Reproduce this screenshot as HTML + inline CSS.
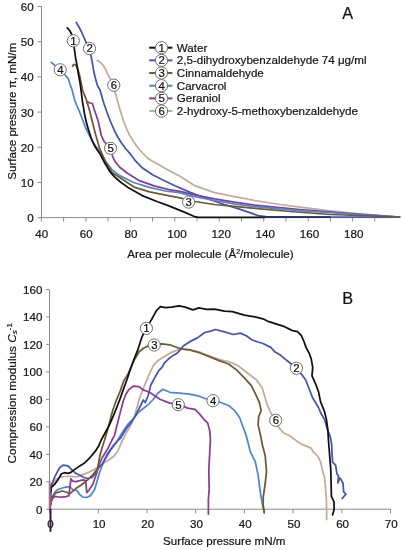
<!DOCTYPE html>
<html><head><meta charset="utf-8"><style>
html,body{margin:0;padding:0;background:#fff;}
svg{display:block;will-change:transform;}
text{font-family:"Liberation Sans", sans-serif;stroke:currentColor;stroke-width:0.22px;paint-order:stroke;}
</style></head><body>
<svg width="405" height="550" viewBox="0 0 405 550">
<rect width="405" height="550" fill="#fff"/>
<line x1="41.5" y1="6.5" x2="41.5" y2="218.1" stroke="#8c8c8c" stroke-width="1"/>
<line x1="41.5" y1="217.6" x2="399.5" y2="217.6" stroke="#8c8c8c" stroke-width="1"/>
<line x1="37.5" y1="217.7" x2="41.5" y2="217.7" stroke="#8c8c8c" stroke-width="1"/>
<text x="33.60" y="222.10" font-size="11.6" text-anchor="end" fill="#151515" color="#151515" >0</text>
<line x1="37.5" y1="182.5" x2="41.5" y2="182.5" stroke="#8c8c8c" stroke-width="1"/>
<text x="33.60" y="186.90" font-size="11.6" text-anchor="end" fill="#151515" color="#151515" >10</text>
<line x1="37.5" y1="147.3" x2="41.5" y2="147.3" stroke="#8c8c8c" stroke-width="1"/>
<text x="33.60" y="151.70" font-size="11.6" text-anchor="end" fill="#151515" color="#151515" >20</text>
<line x1="37.5" y1="112.1" x2="41.5" y2="112.1" stroke="#8c8c8c" stroke-width="1"/>
<text x="33.60" y="116.50" font-size="11.6" text-anchor="end" fill="#151515" color="#151515" >30</text>
<line x1="37.5" y1="76.9" x2="41.5" y2="76.9" stroke="#8c8c8c" stroke-width="1"/>
<text x="33.60" y="81.30" font-size="11.6" text-anchor="end" fill="#151515" color="#151515" >40</text>
<line x1="37.5" y1="41.7" x2="41.5" y2="41.7" stroke="#8c8c8c" stroke-width="1"/>
<text x="33.60" y="46.10" font-size="11.6" text-anchor="end" fill="#151515" color="#151515" >50</text>
<line x1="37.5" y1="6.5" x2="41.5" y2="6.5" stroke="#8c8c8c" stroke-width="1"/>
<text x="33.60" y="10.90" font-size="11.6" text-anchor="end" fill="#151515" color="#151515" >60</text>
<line x1="41.4" y1="217.6" x2="41.4" y2="221.5" stroke="#8c8c8c" stroke-width="1"/>
<line x1="63.6" y1="217.6" x2="63.6" y2="221.5" stroke="#8c8c8c" stroke-width="1"/>
<line x1="85.9" y1="217.6" x2="85.9" y2="221.5" stroke="#8c8c8c" stroke-width="1"/>
<line x1="108.1" y1="217.6" x2="108.1" y2="221.5" stroke="#8c8c8c" stroke-width="1"/>
<line x1="130.3" y1="217.6" x2="130.3" y2="221.5" stroke="#8c8c8c" stroke-width="1"/>
<line x1="152.5" y1="217.6" x2="152.5" y2="221.5" stroke="#8c8c8c" stroke-width="1"/>
<line x1="174.8" y1="217.6" x2="174.8" y2="221.5" stroke="#8c8c8c" stroke-width="1"/>
<line x1="197.0" y1="217.6" x2="197.0" y2="221.5" stroke="#8c8c8c" stroke-width="1"/>
<line x1="219.2" y1="217.6" x2="219.2" y2="221.5" stroke="#8c8c8c" stroke-width="1"/>
<line x1="241.5" y1="217.6" x2="241.5" y2="221.5" stroke="#8c8c8c" stroke-width="1"/>
<line x1="263.7" y1="217.6" x2="263.7" y2="221.5" stroke="#8c8c8c" stroke-width="1"/>
<line x1="285.9" y1="217.6" x2="285.9" y2="221.5" stroke="#8c8c8c" stroke-width="1"/>
<line x1="308.2" y1="217.6" x2="308.2" y2="221.5" stroke="#8c8c8c" stroke-width="1"/>
<line x1="330.4" y1="217.6" x2="330.4" y2="221.5" stroke="#8c8c8c" stroke-width="1"/>
<line x1="352.6" y1="217.6" x2="352.6" y2="221.5" stroke="#8c8c8c" stroke-width="1"/>
<line x1="374.8" y1="217.6" x2="374.8" y2="221.5" stroke="#8c8c8c" stroke-width="1"/>
<text x="41.75" y="238.00" font-size="11.6" text-anchor="middle" fill="#151515" color="#151515" >40</text>
<text x="86.32" y="238.00" font-size="11.6" text-anchor="middle" fill="#151515" color="#151515" >60</text>
<text x="130.90" y="238.00" font-size="11.6" text-anchor="middle" fill="#151515" color="#151515" >80</text>
<text x="176.97" y="238.00" font-size="11.6" text-anchor="middle" fill="#151515" color="#151515" >100</text>
<text x="221.25" y="238.00" font-size="11.6" text-anchor="middle" fill="#151515" color="#151515" >120</text>
<text x="265.22" y="238.00" font-size="11.6" text-anchor="middle" fill="#151515" color="#151515" >140</text>
<text x="309.50" y="238.00" font-size="11.6" text-anchor="middle" fill="#151515" color="#151515" >160</text>
<text x="353.77" y="238.00" font-size="11.6" text-anchor="middle" fill="#151515" color="#151515" >180</text>
<text x="127.30" y="257.80" font-size="11.6" text-anchor="start" fill="#151515" color="#151515" >Area per molecule (&#197;<tspan dy="-4.2" font-size="7">2</tspan><tspan dy="4.2">/molecule)</tspan></text>
<text transform="translate(16.0,111.3) rotate(-90)" font-size="11.6" text-anchor="middle" fill="#151515" color="#151515">Surface pressure &#960;, mN/m</text>
<text x="342.20" y="18.50" font-size="16.3" text-anchor="start" fill="#151515" color="#151515" >A</text>
<polyline points="97.3,60.5 100.5,62.5 103.2,65.4 106.0,70.0 108.2,75.3 111.0,80.0 114.0,85.2 114.8,90.9 116.8,98.0 118.8,105.7 121.0,113.0 123.7,121.5 126.5,128.5 129.6,135.3 133.5,141.5 137.5,147.2 142.0,152.5 147.4,158.0 151.1,160.5 158.5,164.6 168.9,170.4 180.0,176.3 194.8,185.7 214.5,192.6 234.3,196.6 255.0,200.5 280.0,204.5 300.0,207.2 330.0,210.8 360.0,213.8 399.5,217.0" fill="none" stroke="#c4aa98" stroke-width="1.75" stroke-linejoin="round" stroke-linecap="round" />
<polyline points="76.2,22.4 79.0,27.0 81.5,31.9 83.8,37.0 85.8,41.7 89.0,49.0 91.0,55.6 92.2,62.0 93.4,69.4 95.2,77.5 97.3,85.2 100.0,90.0 102.0,97.0 104.0,103.7 106.5,111.0 108.9,117.5 111.8,124.5 114.8,131.4 118.0,137.5 121.7,143.2 125.5,148.5 129.6,153.1 134.6,159.8 142.2,167.8 152.6,174.8 164.4,180.7 175.0,185.7 190.8,192.6 206.6,198.5 224.4,204.5 240.2,209.4 252.0,213.4 257.9,215.6 265.8,216.7 300.0,217.0 399.5,217.0" fill="none" stroke="#4455b8" stroke-width="1.75" stroke-linejoin="round" stroke-linecap="round" />
<polyline points="87.4,101.9 90.0,103.0 92.4,103.4 94.3,109.8 96.3,115.5 98.3,121.6 99.8,128.5 101.3,135.5 104.0,141.3 108.0,146.0 110.9,148.5 112.5,156.0 115.0,161.5 119.8,167.2 127.4,173.3 139.3,180.7 154.1,185.9 168.9,189.6 180.0,191.3 194.8,194.8 214.5,198.8 234.3,202.2 255.0,205.2 300.0,209.6 350.0,213.6 399.5,217.0" fill="none" stroke="#8c3c92" stroke-width="1.75" stroke-linejoin="round" stroke-linecap="round" />
<polyline points="51.4,62.3 55.0,65.5 60.8,70.2 65.2,75.2 68.2,78.6 70.1,84.6 72.1,90.0 74.6,99.9 77.0,106.0 79.5,111.7 82.5,119.5 85.5,127.5 89.0,134.5 92.4,141.4 96.0,146.5 100.0,151.0 102.8,156.5 105.9,161.7 111.9,169.6 119.8,175.6 133.6,182.5 149.4,187.4 165.2,191.0 179.0,192.6 194.8,196.6 214.5,200.5 234.3,203.8 255.0,206.6 300.0,210.6 350.0,214.0 399.5,217.0" fill="none" stroke="#4d86d6" stroke-width="1.75" stroke-linejoin="round" stroke-linecap="round" />
<polyline points="72.6,66.3 73.6,64.3 76.1,65.3 78.0,69.8 79.5,75.0 81.0,82.5 82.5,90.0 86.4,99.9 88.4,106.5 90.4,113.7 92.8,123.5 95.3,133.5 97.5,141.0 99.5,148.0 104.0,158.5 108.0,166.5 112.0,172.5 120.0,177.8 134.8,187.4 149.6,191.9 164.4,194.8 180.0,197.8 194.8,201.5 214.5,204.5 234.3,206.4 255.0,208.4 290.0,211.5 330.0,214.5 399.5,217.0" fill="none" stroke="#6f5a30" stroke-width="1.75" stroke-linejoin="round" stroke-linecap="round" />
<polyline points="67.3,27.9 70.0,31.0 72.0,35.0 73.5,42.0 74.5,50.0 75.6,57.9 77.1,65.8 78.5,74.7 80.0,82.6 81.0,90.0 82.5,101.9 84.5,113.7 86.3,122.0 88.4,129.5 91.0,137.5 94.3,145.3 97.2,150.0 100.0,153.8 104.0,161.7 109.9,171.6 114.5,176.8 119.8,181.5 128.9,188.1 142.2,195.6 157.0,201.5 168.9,205.9 180.0,210.4 184.9,212.4 193.8,216.3 198.0,217.3 265.0,217.3" fill="none" stroke="#111111" stroke-width="1.75" stroke-linejoin="round" stroke-linecap="round" />
<polyline points="262.0,217.2 330.0,217.2" fill="none" stroke="#262a66" stroke-width="1.75" stroke-linejoin="round" stroke-linecap="round" />
<circle cx="73.3" cy="40.8" r="6.1" fill="#fff" stroke="#6e6e6e" stroke-width="1"/>
<text x="73.40" y="44.75" font-size="11.4" text-anchor="middle" fill="#111" color="#111" >1</text>
<circle cx="89.5" cy="48.5" r="6.1" fill="#fff" stroke="#6e6e6e" stroke-width="1"/>
<text x="89.60" y="52.45" font-size="11.4" text-anchor="middle" fill="#111" color="#111" >2</text>
<circle cx="188.6" cy="202.1" r="6.1" fill="#fff" stroke="#6e6e6e" stroke-width="1"/>
<text x="188.70" y="206.05" font-size="11.4" text-anchor="middle" fill="#111" color="#111" >3</text>
<circle cx="60.2" cy="69.8" r="6.1" fill="#fff" stroke="#6e6e6e" stroke-width="1"/>
<text x="60.30" y="73.75" font-size="11.4" text-anchor="middle" fill="#111" color="#111" >4</text>
<circle cx="110.5" cy="148.3" r="6.1" fill="#fff" stroke="#6e6e6e" stroke-width="1"/>
<text x="110.60" y="152.25" font-size="11.4" text-anchor="middle" fill="#111" color="#111" >5</text>
<circle cx="113.8" cy="85.2" r="6.1" fill="#fff" stroke="#6e6e6e" stroke-width="1"/>
<text x="113.85" y="89.20" font-size="11.4" text-anchor="middle" fill="#111" color="#111" >6</text>
<line x1="149.2" y1="47.70" x2="172.4" y2="47.70" stroke="#111111" stroke-width="2"/>
<circle cx="161.5" cy="47.7" r="6.1" fill="#fff" stroke="#6e6e6e" stroke-width="1"/>
<text x="161.60" y="51.65" font-size="11.4" text-anchor="middle" fill="#111" color="#111" >1</text>
<text x="176.80" y="51.65" font-size="11.6" text-anchor="start" fill="#151515" color="#151515" >Water</text>
<line x1="149.2" y1="60.37" x2="172.4" y2="60.37" stroke="#4455b8" stroke-width="2"/>
<circle cx="161.5" cy="60.4" r="6.1" fill="#fff" stroke="#6e6e6e" stroke-width="1"/>
<text x="161.60" y="64.32" font-size="11.4" text-anchor="middle" fill="#111" color="#111" >2</text>
<text x="176.80" y="64.32" font-size="11.6" text-anchor="start" fill="#151515" color="#151515" >2,5-dihydroxybenzaldehyde 74 &#956;g/ml</text>
<line x1="149.2" y1="73.04" x2="172.4" y2="73.04" stroke="#6f5a30" stroke-width="2"/>
<circle cx="161.5" cy="73.0" r="6.1" fill="#fff" stroke="#6e6e6e" stroke-width="1"/>
<text x="161.60" y="76.99" font-size="11.4" text-anchor="middle" fill="#111" color="#111" >3</text>
<text x="176.80" y="76.99" font-size="11.6" text-anchor="start" fill="#151515" color="#151515" >Cinnamaldehyde</text>
<line x1="149.2" y1="85.71" x2="172.4" y2="85.71" stroke="#4d86d6" stroke-width="2"/>
<circle cx="161.5" cy="85.7" r="6.1" fill="#fff" stroke="#6e6e6e" stroke-width="1"/>
<text x="161.60" y="89.66" font-size="11.4" text-anchor="middle" fill="#111" color="#111" >4</text>
<text x="176.80" y="89.66" font-size="11.6" text-anchor="start" fill="#151515" color="#151515" >Carvacrol</text>
<line x1="149.2" y1="98.38" x2="172.4" y2="98.38" stroke="#8c3c92" stroke-width="2"/>
<circle cx="161.5" cy="98.4" r="6.1" fill="#fff" stroke="#6e6e6e" stroke-width="1"/>
<text x="161.60" y="102.33" font-size="11.4" text-anchor="middle" fill="#111" color="#111" >5</text>
<text x="176.80" y="102.33" font-size="11.6" text-anchor="start" fill="#151515" color="#151515" >Geraniol</text>
<line x1="149.2" y1="111.05" x2="172.4" y2="111.05" stroke="#c4aa98" stroke-width="2"/>
<circle cx="161.5" cy="111.1" r="6.1" fill="#fff" stroke="#6e6e6e" stroke-width="1"/>
<text x="161.60" y="115.00" font-size="11.4" text-anchor="middle" fill="#111" color="#111" >6</text>
<text x="176.80" y="115.00" font-size="11.6" text-anchor="start" fill="#151515" color="#151515" >2-hydroxy-5-methoxybenzaldehyde</text>
<line x1="49.5" y1="289.5" x2="49.5" y2="509.7" stroke="#8c8c8c" stroke-width="1"/>
<line x1="49.5" y1="509.2" x2="391.0" y2="509.2" stroke="#8c8c8c" stroke-width="1"/>
<line x1="46" y1="509.3" x2="49.5" y2="509.3" stroke="#8c8c8c" stroke-width="1"/>
<text x="42.40" y="513.70" font-size="11.6" text-anchor="end" fill="#151515" color="#151515" >0</text>
<line x1="46" y1="481.8" x2="49.5" y2="481.8" stroke="#8c8c8c" stroke-width="1"/>
<text x="42.40" y="486.22" font-size="11.6" text-anchor="end" fill="#151515" color="#151515" >20</text>
<line x1="46" y1="454.3" x2="49.5" y2="454.3" stroke="#8c8c8c" stroke-width="1"/>
<text x="42.40" y="458.74" font-size="11.6" text-anchor="end" fill="#151515" color="#151515" >40</text>
<line x1="46" y1="426.9" x2="49.5" y2="426.9" stroke="#8c8c8c" stroke-width="1"/>
<text x="42.40" y="431.26" font-size="11.6" text-anchor="end" fill="#151515" color="#151515" >60</text>
<line x1="46" y1="399.4" x2="49.5" y2="399.4" stroke="#8c8c8c" stroke-width="1"/>
<text x="42.40" y="403.78" font-size="11.6" text-anchor="end" fill="#151515" color="#151515" >80</text>
<line x1="46" y1="371.9" x2="49.5" y2="371.9" stroke="#8c8c8c" stroke-width="1"/>
<text x="42.40" y="376.30" font-size="11.6" text-anchor="end" fill="#151515" color="#151515" >100</text>
<line x1="46" y1="344.4" x2="49.5" y2="344.4" stroke="#8c8c8c" stroke-width="1"/>
<text x="42.40" y="348.82" font-size="11.6" text-anchor="end" fill="#151515" color="#151515" >120</text>
<line x1="46" y1="316.9" x2="49.5" y2="316.9" stroke="#8c8c8c" stroke-width="1"/>
<text x="42.40" y="321.34" font-size="11.6" text-anchor="end" fill="#151515" color="#151515" >140</text>
<line x1="46" y1="289.5" x2="49.5" y2="289.5" stroke="#8c8c8c" stroke-width="1"/>
<text x="42.40" y="293.86" font-size="11.6" text-anchor="end" fill="#151515" color="#151515" >160</text>
<line x1="49.6" y1="509.2" x2="49.6" y2="513.3" stroke="#8c8c8c" stroke-width="1"/>
<text x="50.40" y="527.90" font-size="11.6" text-anchor="middle" fill="#151515" color="#151515" >0</text>
<line x1="98.3" y1="509.2" x2="98.3" y2="513.3" stroke="#8c8c8c" stroke-width="1"/>
<text x="99.10" y="527.90" font-size="11.6" text-anchor="middle" fill="#151515" color="#151515" >10</text>
<line x1="147.0" y1="509.2" x2="147.0" y2="513.3" stroke="#8c8c8c" stroke-width="1"/>
<text x="147.80" y="527.90" font-size="11.6" text-anchor="middle" fill="#151515" color="#151515" >20</text>
<line x1="195.7" y1="509.2" x2="195.7" y2="513.3" stroke="#8c8c8c" stroke-width="1"/>
<text x="196.50" y="527.90" font-size="11.6" text-anchor="middle" fill="#151515" color="#151515" >30</text>
<line x1="244.4" y1="509.2" x2="244.4" y2="513.3" stroke="#8c8c8c" stroke-width="1"/>
<text x="245.20" y="527.90" font-size="11.6" text-anchor="middle" fill="#151515" color="#151515" >40</text>
<line x1="293.1" y1="509.2" x2="293.1" y2="513.3" stroke="#8c8c8c" stroke-width="1"/>
<text x="293.90" y="527.90" font-size="11.6" text-anchor="middle" fill="#151515" color="#151515" >50</text>
<line x1="341.8" y1="509.2" x2="341.8" y2="513.3" stroke="#8c8c8c" stroke-width="1"/>
<text x="342.60" y="527.90" font-size="11.6" text-anchor="middle" fill="#151515" color="#151515" >60</text>
<line x1="390.5" y1="509.2" x2="390.5" y2="513.3" stroke="#8c8c8c" stroke-width="1"/>
<text x="391.30" y="527.90" font-size="11.6" text-anchor="middle" fill="#151515" color="#151515" >70</text>
<text x="163.10" y="545.30" font-size="11.6" text-anchor="start" fill="#151515" color="#151515" >Surface pressure mN/m</text>
<text transform="translate(15.8,463.4) rotate(-90)" font-size="11.8" fill="#151515" color="#151515">Compression modulus <tspan font-style="italic">C</tspan><tspan font-size="8" font-style="italic" dy="1.6">s</tspan><tspan font-size="7.8" dy="-5.1">-1</tspan></text>
<text x="342.30" y="303.50" font-size="16.3" text-anchor="start" fill="#151515" color="#151515" >B</text>
<polyline points="49.8,485.0 51.5,486.0 54.0,482.0 56.5,479.0 60.0,477.3 64.0,476.5 69.9,476.3 77.8,476.8 81.7,474.8 87.7,472.8 93.6,469.9 99.5,465.9 104.6,462.5 109.0,459.8 114.1,456.0 117.9,450.9 121.7,442.0 125.5,434.4 130.6,425.4 134.4,416.5 137.0,407.6 138.9,400.0 140.4,396.0 144.9,384.5 147.8,377.6 150.8,370.7 153.8,364.8 157.7,360.8 163.6,356.9 168.6,353.9 175.0,350.9 182.6,348.8 189.5,349.8 201.4,352.7 209.3,355.7 219.2,359.6 228.6,361.5 238.5,365.9 248.4,373.8 256.3,379.8 262.2,387.7 264.3,395.0 267.3,404.9 271.0,413.5 275.7,420.3 278.5,427.1 283.4,432.7 289.6,435.7 297.0,441.3 301.9,444.4 305.9,445.9 311.1,448.1 313.3,451.9 317.8,456.3 320.7,462.2 322.2,469.6 324.4,477.0 325.5,487.4 326.4,499.3 326.7,519.5" fill="none" stroke="#c4aa98" stroke-width="1.75" stroke-linejoin="round" stroke-linecap="round" />
<polyline points="50.3,506.0 52.0,498.0 55.0,492.0 58.0,489.5 62.2,488.0 65.9,487.2 69.9,486.7 72.8,489.6 76.8,490.6 79.8,494.6 82.7,497.0 86.7,497.5 90.6,495.6 94.6,489.6 97.5,479.8 99.5,472.8 102.0,466.0 104.0,461.0 110.0,451.0 116.0,443.0 122.0,433.0 128.0,424.0 134.0,418.0 137.4,413.4 142.0,409.5 147.3,405.5 153.2,399.5 157.9,393.2 162.8,389.3 169.8,392.3 179.6,393.2 189.5,394.2 199.4,396.2 204.9,398.5 212.3,400.0 220.7,402.5 228.6,405.5 234.5,410.4 239.5,417.3 242.4,425.2 245.4,433.1 247.4,440.0 250.3,451.9 255.3,461.7 258.2,475.6 260.2,491.4 262.2,503.2 264.2,513.1" fill="none" stroke="#4d86d6" stroke-width="1.75" stroke-linejoin="round" stroke-linecap="round" />
<polyline points="49.8,487.6 52.7,481.8 54.9,476.7 57.8,470.9 60.0,467.3 63.6,465.1 68.0,465.8 71.9,469.9 75.8,473.3 79.8,475.3 84.0,477.5 88.0,478.5 92.0,477.5 95.0,474.0 97.7,469.0 102.6,463.6 107.7,453.4 114.1,444.5 120.4,438.2 126.8,428.0 131.9,421.6 135.7,415.3 139.5,407.6 143.3,400.0 145.3,402.5 148.0,396.0 150.8,385.0 154.8,377.6 158.7,370.7 161.7,367.7 164.6,362.8 168.6,358.8 172.5,355.9 175.0,354.4 177.7,352.7 183.6,345.8 189.5,341.9 197.4,337.9 204.8,332.5 210.7,331.1 215.6,329.5 224.5,331.9 233.4,334.5 240.3,333.1 246.3,335.8 252.2,340.0 258.0,342.0 262.9,343.5 270.8,347.4 274.8,351.8 280.7,355.3 286.6,360.3 296.5,368.2 301.4,374.1 305.7,379.9 308.7,387.8 312.6,397.7 318.5,407.5 320.5,412.5 324.5,419.4 327.4,429.3 330.4,437.2 331.8,445.1 331.9,451.9 332.6,462.2 335.6,465.2 337.0,474.1 338.5,475.6 337.8,483.0 340.0,478.0 343.0,483.0 343.7,491.9 345.9,494.1 342.2,498.5" fill="none" stroke="#4455b8" stroke-width="1.75" stroke-linejoin="round" stroke-linecap="round" />
<polyline points="50.3,505.0 52.0,499.0 54.9,496.4 58.0,497.0 62.2,497.1 66.0,496.6 68.9,495.6 69.9,487.7 70.9,478.8 72.8,481.2 75.8,481.7 79.8,480.7 83.7,479.8 85.7,481.0 86.7,492.6 89.0,490.0 92.6,484.7 96.5,473.8 99.0,465.0 102.0,458.0 108.5,447.4 112.0,440.0 114.4,435.6 117.4,423.7 120.4,411.9 123.3,401.0 126.0,394.0 128.9,389.6 133.3,386.2 139.1,386.7 142.7,389.6 150.0,392.5 159.9,399.2 169.8,403.1 178.7,404.1 187.5,408.1 195.0,409.4 199.0,413.4 203.9,419.3 207.8,423.2 209.8,431.1 210.4,440.0 209.8,451.9 208.8,469.6 209.2,489.4 208.4,499.3 208.4,514.1" fill="none" stroke="#8c3c92" stroke-width="1.75" stroke-linejoin="round" stroke-linecap="round" />
<polyline points="50.3,506.0 52.0,497.0 56.0,493.0 62.0,491.0 66.0,492.0 69.9,493.6 75.8,488.6 81.7,484.7 87.7,479.8 93.6,473.8 97.5,468.9 99.7,456.8 102.0,448.0 104.6,440.0 108.5,426.7 111.5,414.8 112.9,410.0 116.5,399.8 120.2,391.1 123.8,380.9 128.2,373.6 134.0,360.5 139.1,351.8 143.5,348.2 149.3,345.3 155.1,344.3 161.9,343.8 169.8,344.8 177.7,347.8 182.6,349.2 189.5,349.8 194.9,351.3 199.4,352.7 209.3,356.7 219.2,360.6 228.6,364.0 236.5,369.9 244.4,377.8 251.3,385.7 255.3,393.6 259.3,402.4 261.2,410.4 258.7,416.6 258.1,424.6 260.6,435.7 262.4,445.0 265.2,455.8 266.5,471.6 265.2,483.5 263.2,497.3 263.2,505.2 264.2,512.1" fill="none" stroke="#6f5a30" stroke-width="1.75" stroke-linejoin="round" stroke-linecap="round" />
<polyline points="50.5,497.0 51.3,487.3 54.9,484.0 58.5,478.9 61.5,473.8 64.4,472.7 68.0,473.3 71.0,472.3 74.8,469.4 79.8,465.9 84.9,462.7 89.8,457.8 94.8,451.9 98.7,445.9 101.2,440.0 105.6,432.0 110.0,423.7 114.4,413.3 117.3,406.0 120.2,398.4 123.8,388.2 127.5,378.0 130.4,369.3 134.0,359.1 137.6,350.4 141.3,338.7 144.2,332.0 146.6,327.5 151.5,319.6 156.4,310.7 160.4,306.7 165.3,307.7 171.3,307.1 179.2,305.8 185.1,307.1 192.9,309.8 198.8,307.8 206.7,309.4 214.6,309.2 224.5,311.1 232.4,311.7 244.3,315.1 255.0,316.8 262.9,318.8 268.8,321.7 276.7,324.1 284.6,326.7 292.5,330.6 297.5,331.6 301.4,335.6 304.0,341.5 306.0,347.4 309.3,353.4 311.3,359.3 312.7,367.2 312.0,375.9 315.6,383.8 318.5,391.7 320.5,401.6 324.5,411.5 326.4,419.4 327.8,429.3 328.4,439.2 329.6,454.8 330.8,469.6 331.1,484.4 331.4,496.3 334.1,502.2 334.1,509.6 332.6,514.8" fill="none" stroke="#111111" stroke-width="1.75" stroke-linejoin="round" stroke-linecap="round" />
<polyline points="49.6,481.0 49.6,509.0" fill="none" stroke="#b07a80" stroke-width="1.80" stroke-linejoin="round" stroke-linecap="round" />
<polyline points="50.4,493.0 50.4,509.0" fill="none" stroke="#9a5aa0" stroke-width="1.60" stroke-linejoin="round" stroke-linecap="round" />
<polyline points="50.5,509.5 50.5,531.0" fill="none" stroke="#3a1838" stroke-width="2.00" stroke-linejoin="round" stroke-linecap="round" />
<circle cx="146.4" cy="328.3" r="6.1" fill="#fff" stroke="#6e6e6e" stroke-width="1"/>
<text x="146.50" y="332.25" font-size="11.4" text-anchor="middle" fill="#111" color="#111" >1</text>
<circle cx="296.4" cy="368.2" r="6.1" fill="#fff" stroke="#6e6e6e" stroke-width="1"/>
<text x="296.50" y="372.15" font-size="11.4" text-anchor="middle" fill="#111" color="#111" >2</text>
<circle cx="154.2" cy="345.0" r="6.1" fill="#fff" stroke="#6e6e6e" stroke-width="1"/>
<text x="154.30" y="348.95" font-size="11.4" text-anchor="middle" fill="#111" color="#111" >3</text>
<circle cx="213.0" cy="400.7" r="6.1" fill="#fff" stroke="#6e6e6e" stroke-width="1"/>
<text x="213.10" y="404.65" font-size="11.4" text-anchor="middle" fill="#111" color="#111" >4</text>
<circle cx="178.3" cy="404.7" r="6.1" fill="#fff" stroke="#6e6e6e" stroke-width="1"/>
<text x="178.40" y="408.65" font-size="11.4" text-anchor="middle" fill="#111" color="#111" >5</text>
<circle cx="275.7" cy="420.3" r="6.1" fill="#fff" stroke="#6e6e6e" stroke-width="1"/>
<text x="275.80" y="424.25" font-size="11.4" text-anchor="middle" fill="#111" color="#111" >6</text>
</svg>
</body></html>
